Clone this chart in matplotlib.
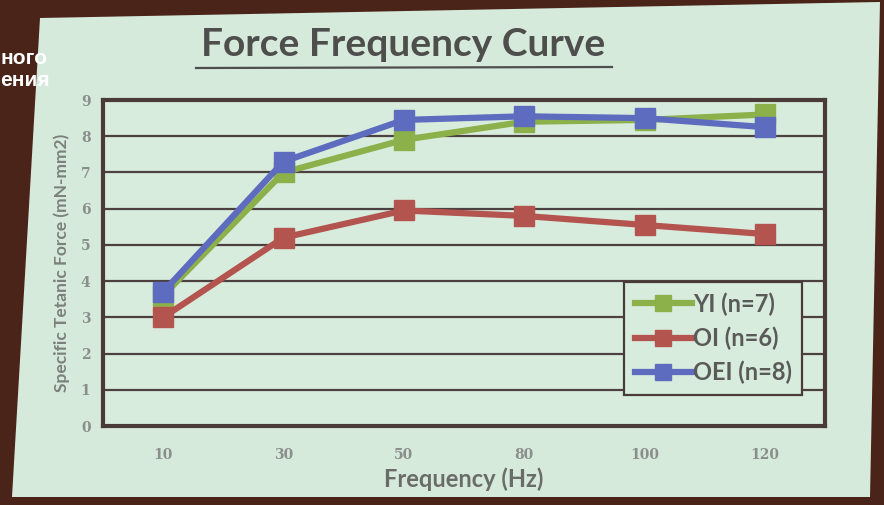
import matplotlib.pyplot as plt
import numpy as np
from matplotlib.patches import Polygon
from matplotlib.lines import Line2D

frequencies = ['10', '30', '50', '80', '100', '120']
yi = [3.6, 7.0, 7.9, 8.4, 8.45, 8.6]
oi = [3.0, 5.2, 5.95, 5.8, 5.55, 5.3]
oei = [3.7, 7.3, 8.45, 8.55, 8.5, 8.25]
series = [('YI (n=7)', yi, '#8cb04a'), ('OI (n=6)', oi, '#b3544f'), ('OEI (n=8)', oei, '#5d6cbf')]

W, H = 884, 505
fig = plt.figure(figsize=(W / 100, H / 100), dpi=100, facecolor='#4a2418')

# projected slide area (photo of a screen)
slide = [(40, 18), (880, 2), (870, 497), (12, 497)]
fig.patches.append(Polygon([(x / W, 1 - y / H) for x, y in slide], closed=True,
                           transform=fig.transFigure, facecolor='#d6eadc', edgecolor='none', zorder=-5))

ax = fig.add_axes([103 / W, 1 - 426 / H, 722 / W, 326 / H])
ax.set_zorder(2)
ax.set_facecolor('#d8ecde')

x = np.arange(len(frequencies))
for name, vals, color in series:
    ax.plot(x, vals, color=color, lw=4.5, marker='s', markersize=15,
            markeredgecolor=color, label=name, zorder=3)

ax.set_xlim(-0.5, len(frequencies) - 0.5)
ax.set_ylim(0, 9)
ax.set_yticks(range(10))
ax.set_xticks(x)
ax.set_xticklabels(frequencies)
ax.grid(axis='y', color='#4d4040', lw=1.6)
ax.set_axisbelow(True)
ax.tick_params(axis='x', length=0, pad=16)
ax.tick_params(axis='y', length=0, pad=9)
for lab in ax.get_xticklabels() + ax.get_yticklabels():
    lab.set_family('DejaVu Serif')
    lab.set_fontsize(10)
    lab.set_fontweight('bold')
    lab.set_color('#8a8f8c')
for s in ax.spines.values():
    s.set_color('#4a3a38')
    s.set_linewidth(3)

ax.set_xlabel('Frequency (Hz)', fontsize=17, fontweight='bold', color='#6a6c68',
              labelpad=4, family='Lato')
ax.set_ylabel('Specific Tetanic Force (mN-mm2)', fontsize=12.5, fontweight='bold',
              color='#7c807c', labelpad=8, family='Lato')

leg = ax.legend(loc='lower right', bbox_to_anchor=(0.985, 0.06),
                prop={'family': 'Lato', 'weight': 'bold', 'size': 17},
                frameon=True, fancybox=False, handlelength=2.4, labelspacing=0.45,
                borderpad=0.45, handletextpad=0.05, markerscale=0.8)
leg.get_frame().set_edgecolor('#4a3a38')
leg.get_frame().set_linewidth(1.6)
leg.get_frame().set_facecolor('#d8ecde')
leg.get_frame().set_alpha(1)
for t in leg.get_texts():
    t.set_color('#5a5a58')

fig.text(403 / W, 1 - 44 / H, 'Force Frequency Curve', ha='center', va='center',
         fontsize=28, fontweight='bold', color='#4e4e4c', family='Lato')
fig.add_artist(Line2D([196 / W, 612 / W], [1 - 68 / H, 1 - 67 / H],
                      transform=fig.transFigure, color='#4e4e4c', lw=1.6))

fig.text(0.0, 1 - 58 / H, 'ного', ha='left', va='center', fontsize=15,
         fontweight='bold', color='white', family='Liberation Sans')
fig.text(0.0, 1 - 80 / H, 'ения', ha='left', va='center', fontsize=15,
         fontweight='bold', color='white', family='Liberation Sans')

fig.savefig('out.png', dpi=100, facecolor=fig.get_facecolor())
